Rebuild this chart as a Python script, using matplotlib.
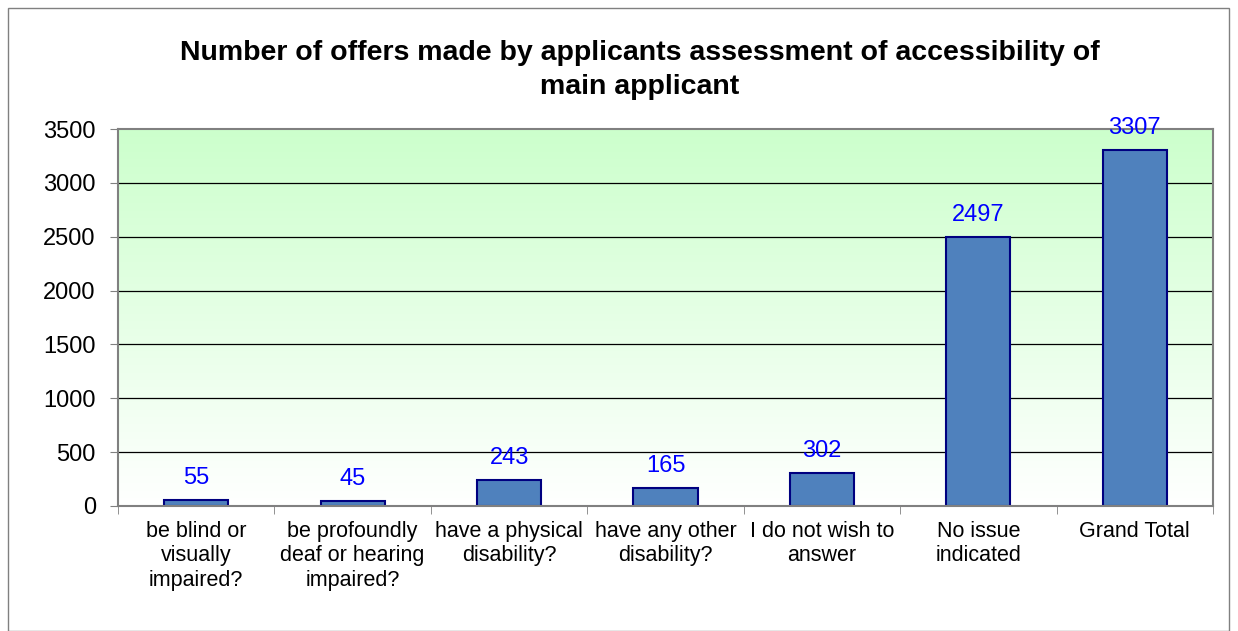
import numpy as np
import matplotlib.pyplot as plt
from matplotlib.patches import Rectangle

plt.rcParams['font.family'] = ['Liberation Sans', 'DejaVu Sans']

categories = ['be blind or\nvisually\nimpaired?', 'be profoundly\ndeaf or hearing\nimpaired?',
              'have a physical\ndisability?', 'have any other\ndisability?',
              'I do not wish to\nanswer', 'No issue\nindicated', 'Grand Total']
offers = [55, 45, 243, 165, 302, 2497, 3307]
yticks = [0, 500, 1000, 1500, 2000, 2500, 3000, 3500]

fig = plt.figure(figsize=(12.38, 6.31), dpi=100)
fig.patches.append(Rectangle((8 / 1238, 0), 1221 / 1238, 623 / 631, transform=fig.transFigure,
                             fill=False, edgecolor='#808080', linewidth=1))
ax = fig.add_axes([118 / 1238, 1 - 506 / 631, 1095 / 1238, 377 / 631])

x = np.arange(len(categories))
ax.set_xlim(-0.5, len(categories) - 0.5)
ax.set_ylim(0, 3500)

# green to white gradient behind the bars
grad = np.linspace(0, 1, 256).reshape(-1, 1)
top = np.array([204, 255, 204]) / 255
bottom = np.array([255, 255, 255]) / 255
img = top + (bottom - top) * grad[..., None]
ax.imshow(img.reshape(256, 1, 3), extent=[-0.5, len(categories) - 0.5, 0, 3500],
          aspect='auto', origin='upper', zorder=0)

for t in yticks[1:-1]:
    ax.axhline(t, color='black', linewidth=0.9, zorder=1)

bars = ax.bar(x, offers, width=0.41, color='#4F81BD', edgecolor='#000080', linewidth=1.5, zorder=2)
for xi, v in zip(x, offers):
    ax.annotate(str(v), (xi, v), xytext=(0, 8), textcoords='offset points',
                ha='center', va='bottom', color='#0000FF', fontsize=17, zorder=3)

ax.set_yticks(yticks)
ax.set_yticklabels([str(t) for t in yticks], fontsize=17)
ax.set_xticks(x)
ax.set_xticklabels(categories, fontsize=15.5, linespacing=1.2)
ax.set_xticks(np.arange(-0.5, len(categories)), minor=True)
ax.tick_params(axis='x', which='major', length=0, pad=11)
ax.tick_params(axis='x', which='minor', length=6, color='#808080')
ax.tick_params(axis='y', length=6, color='#808080', pad=10)
for s in ax.spines.values():
    s.set_color('#808080')
    s.set_linewidth(1.5)

fig.text(640 / 1238, 1 - 70 / 631,
         'Number of offers made by applicants assessment of accessibility of\nmain applicant',
         ha='center', va='center', fontsize=20.5, fontweight='bold', linespacing=1.35)

fig.savefig('out.png', dpi=100)
